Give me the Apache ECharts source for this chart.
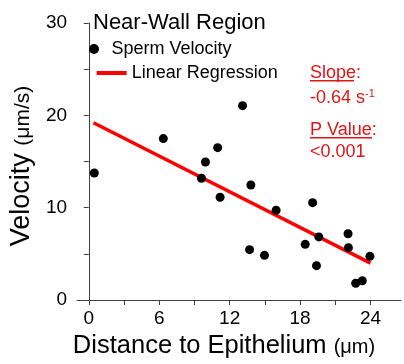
<!DOCTYPE html>
<html>
<head>
<meta charset="utf-8">
<script src="https://cdn.jsdelivr.net/npm/echarts@6/dist/echarts.min.js"></script>
<style>html,body{margin:0;padding:0;background:#fff}#c{width:404px;height:364px}</style>
</head>
<body>
<div id="c"></div>
<script>
// Data
var distance = [0.47, 6.35, 13.1, 10.98, 9.94, 9.6, 11.19, 13.81, 15.96, 19.07, 13.7, 14.97, 18.44, 19.6, 19.4, 22.09, 22.12, 23.95, 22.74, 23.3];
var velocity = [13.76, 17.48, 21.05, 16.5, 14.95, 13.18, 11.13, 12.46, 9.72, 10.54, 5.45, 4.84, 6.03, 6.83, 3.72, 7.18, 5.67, 4.73, 1.81, 2.09];
var regX = [0.4, 24];
var regY = [19.2, 4.0];
var xTicks = [0, 3, 6, 9, 12, 15, 18, 21, 24];
var xLabels = [0, 6, 12, 18, 24];
var yTicks = [0, 5, 10, 15, 20, 25, 30];
var yLabels = [0, 10, 20, 30];

var FONT = 'Liberation Sans, Arial, sans-serif';
var RED = '#e01515';

var scatterData = distance.map(function (d, i) { return [d, velocity[i]]; });
var lineData = regX.map(function (d, i) { return [d, regY[i]]; });

var chart = echarts.init(document.getElementById('c'), null, {renderer: 'canvas'});
chart.setOption({
  animation: false,
  backgroundColor: '#fff',
  textStyle: {fontFamily: FONT},
  grid: {left: 75, right: 3, top: 23, bottom: 64, containLabel: false},
  xAxis: {
    type: 'value', min: -1, max: 26.6,
    name: '{m|Distance to Epithelium }{s|(μm)}',
    nameLocation: 'middle', nameGap: 27,
    nameTextStyle: {padding: [0, 30, 0, 0], rich: {
      m: {fontSize: 25.5, fontFamily: FONT, color: '#000'},
      s: {fontSize: 20, fontFamily: FONT, color: '#000', padding: [3, 0, 0, 0]}
    }},
    axisLine: {onZero: false, lineStyle: {color: '#404040', width: 1}},
    axisTick: {show: true, customValues: xTicks, length: 5, lineStyle: {color: '#404040'}},
    axisLabel: {customValues: xLabels, fontSize: 19, color: '#000', margin: 9, fontFamily: FONT},
    splitLine: {show: false}
  },
  yAxis: {
    type: 'value', min: 0, max: 30,
    name: '{m|Velocity }{s|(μm/s)}',
    nameLocation: 'middle', nameGap: 40,
    nameTextStyle: {padding: [0, 9, 0, 0], rich: {
      m: {fontSize: 27, fontFamily: FONT, color: '#000'},
      s: {fontSize: 21, fontFamily: FONT, color: '#000', padding: [3, 0, 0, 0]}
    }},
    axisLine: {show: true, lineStyle: {color: '#404040', width: 1}},
    axisTick: {show: true, customValues: yTicks, length: 5, lineStyle: {color: '#404040'}},
    axisLabel: {customValues: yLabels, fontSize: 19, color: '#000', margin: 10, fontFamily: FONT},
    splitLine: {show: false}
  },
  legend: [
    {
      data: [{name: 'Sperm Velocity', icon: 'circle'}],
      left: 89, top: 40, itemWidth: 25, itemHeight: 10, padding: 0,
      textStyle: {fontSize: 18, color: '#000', fontFamily: FONT}
    },
    {
      data: [{name: 'Linear Regression', icon: 'rect'}],
      left: 96.7, top: 64, itemWidth: 30, itemHeight: 4, padding: 0,
      itemStyle: {color: '#f00'},
      textStyle: {fontSize: 18, color: '#000', fontFamily: FONT}
    }
  ],
  series: [
    {
      name: 'Sperm Velocity', type: 'scatter', data: scatterData,
      symbol: 'circle', symbolSize: 9, itemStyle: {color: '#000', opacity: 1}, z: 3
    },
    {
      name: 'Linear Regression', type: 'line', data: lineData,
      symbol: 'none', showSymbol: false,
      lineStyle: {color: '#f00', width: 3.5}, itemStyle: {color: '#f00'}, z: 2
    }
  ],
  graphic: [
    {type: 'text', left: 93, top: 12, style: {text: 'Near-Wall Region', font: '22px ' + FONT, fill: '#000'}},
    {type: 'text', left: 310, top: 64, style: {text: 'Slope:', font: '18px ' + FONT, fill: RED}},
    {type: 'rect', left: 310, top: 80, shape: {width: 44, height: 1.5}, style: {fill: RED}},
    {type: 'text', left: 310, top: 88, style: {
      text: '{a|-0.64 s}{b|-1}',
      fill: RED,
      rich: {a: {fontSize: 18, fontFamily: FONT, fill: RED}, b: {fontSize: 11, fontFamily: FONT, fill: RED, padding: [0, 0, 9, 0]}}
    }},
    {type: 'text', left: 310, top: 121, style: {text: 'P Value:', font: '18px ' + FONT, fill: RED}},
    {type: 'rect', left: 310, top: 137, shape: {width: 62, height: 1.5}, style: {fill: RED}},
    {type: 'text', left: 310, top: 143, style: {text: '<0.001', font: '18px ' + FONT, fill: RED}}
  ]
});
</script>
</body>
</html>
